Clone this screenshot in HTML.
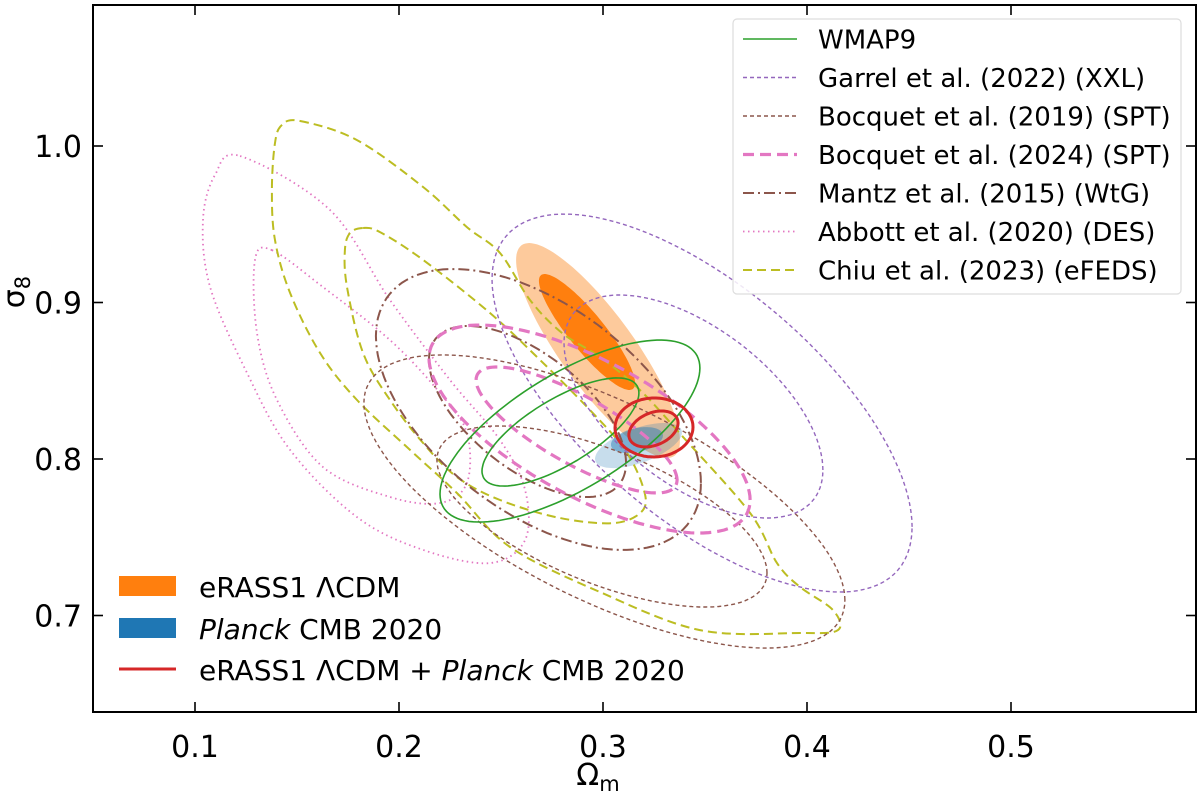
<!DOCTYPE html>
<html><head><meta charset="utf-8">
<style>
html,body{margin:0;padding:0;background:#fff;}
svg{display:block;font-family:"DejaVu Sans","Liberation Sans",sans-serif;}
</style></head>
<body>
<svg id="chart" width="1200" height="795" viewBox="0 0 1200 795" xmlns="http://www.w3.org/2000/svg">
  <g id="fills"></g>
  <g id="lines"></g>
  <g id="axes"></g>
  <g id="legend"></g>
</svg>
<script>
// ---- axis tick data ----
const xTicks = [0.1, 0.2, 0.3, 0.4, 0.5];
const xTickLabels = ["0.1", "0.2", "0.3", "0.4", "0.5"];
const yTicks = [0.7, 0.8, 0.9, 1.0];
const yTickLabels = ["0.7", "0.8", "0.9", "1.0"];

// ---- ellipse contours: [Om left, Om right, s8 bottom, s8 top, s8 at rightmost point] ----
const wmapOuter = [0.2201, 0.3475, 0.7597, 0.8760, 0.8581];
const wmapInner = [0.2407, 0.3176, 0.7827, 0.8518, 0.8422];
const combOuter = [0.3059, 0.3441, 0.8013, 0.8390, 0.8204];
const combInner = [0.3127, 0.3368, 0.8077, 0.8307, 0.8230];
const planckOuter = [0.2961, 0.3387, 0.7942, 0.8230, 0.8170];
const planckInner = [0.3039, 0.3294, 0.8038, 0.8204, 0.8150];
const erassOuter = [0.2574, 0.3377, 0.8006, 0.9380, 0.8115];
const erassInner = [0.2686, 0.3157, 0.8441, 0.9182, 0.8485];
const garrelOuter = [0.2456, 0.4515, 0.7150, 0.9565, 0.7566];
const garrelInner = [0.2809, 0.4078, 0.7623, 0.9048, 0.7930];
const mantzOuter = [0.1887, 0.3480, 0.7419, 0.9214, 0.7847];
const mantzInner = [0.2147, 0.3113, 0.7757, 0.8850, 0.7974];
const bocq19Outer = [0.1828, 0.4186, 0.6792, 0.8665, 0.7099];
const bocq19Inner = [0.2186, 0.3804, 0.7054, 0.8211, 0.7272];
const bocq24Outer = [0.2147, 0.3721, 0.7527, 0.8856, 0.7738];
const bocq24Inner = [0.2378, 0.3363, 0.7783, 0.8588, 0.7866];

// ---- irregular contours: [Om, s8] points ----
const abbottOuter = [[0.1221,0.9936],[0.1662,0.9591],[0.1956,0.9016],[0.2250,0.8505],[0.2495,0.8121],[0.2618,0.7802],[0.2618,0.7482],[0.2446,0.7335],[0.2118,0.7419],[0.1794,0.7629],[0.1466,0.8058],[0.1255,0.8550],[0.1074,0.9099],[0.1039,0.9527],[0.1098,0.9815]];
const abbottInner = [[0.1377,0.9335],[0.1627,0.9099],[0.1956,0.8760],[0.2201,0.8422],[0.2333,0.8166],[0.2333,0.7847],[0.2201,0.7719],[0.1956,0.7757],[0.1627,0.7949],[0.1402,0.8377],[0.1304,0.8805],[0.1294,0.9272]];
const chiuOuter = [[0.1515,1.0160],[0.1794,1.0038],[0.2118,0.9738],[0.2333,0.9482],[0.2495,0.9316],[0.2642,0.9016],[0.2799,0.8805],[0.2985,0.8652],[0.3181,0.8441],[0.3392,0.8141],[0.3721,0.7655],[0.3853,0.7335],[0.3966,0.7182],[0.4127,0.7035],[0.4152,0.6907],[0.3966,0.6888],[0.3475,0.6907],[0.2985,0.7150],[0.2544,0.7438],[0.2284,0.7783],[0.2054,0.8058],[0.1794,0.8377],[0.1613,0.8677],[0.1466,0.9061],[0.1392,0.9399],[0.1377,0.9719],[0.1392,1.0019],[0.1426,1.0134]];
const chiuInner = [[0.1824,0.9476],[0.1907,0.9450],[0.2118,0.9272],[0.2446,0.8933],[0.2691,0.8633],[0.2936,0.8313],[0.3108,0.8058],[0.3196,0.7821],[0.3196,0.7674],[0.3059,0.7591],[0.2789,0.7623],[0.2495,0.7738],[0.2284,0.7885],[0.2118,0.8102],[0.1956,0.8377],[0.1824,0.8677],[0.1745,0.9099],[0.1735,0.9335],[0.1760,0.9444]];

// ---- axis functions ----
const X0 = 93, X1 = 1196, Y0 = 5, Y1 = 712;
function xs(v){ return 195 + (v - 0.1) * 2040; }
function ys(v){ return 459 - (v - 0.8) * 1565; }
const NS = "http://www.w3.org/2000/svg";
function mk(tag, attrs, parent){ const e = document.createElementNS(NS, tag); for (const k in attrs) e.setAttribute(k, attrs[k]); if (parent) parent.appendChild(e); return e; }

function ellipsePath(p){
  const cx = (p[0]+p[1])/2, rx = (p[1]-p[0])/2, cy = (p[2]+p[3])/2, ry = (p[3]-p[2])/2;
  let c = (p[4]-cy)/ry; c = Math.max(-1, Math.min(1, c));
  const phi = Math.acos(c);
  let d = "";
  for (let i = 0; i <= 120; i++){
    const t = i/120*2*Math.PI;
    const X = xs(cx + rx*Math.cos(t)), Y = ys(cy + ry*Math.cos(t - phi));
    d += (i ? "L" : "M") + X.toFixed(1) + "," + Y.toFixed(1);
  }
  return d + "Z";
}
function smoothPath(pts){
  const P = pts.map(q => [xs(q[0]), ys(q[1])]);
  const n = P.length; let d = "M" + P[0][0].toFixed(1) + "," + P[0][1].toFixed(1);
  for (let i = 0; i < n; i++){
    const p0 = P[(i-1+n)%n], p1 = P[i], p2 = P[(i+1)%n], p3 = P[(i+2)%n];
    const c1 = [p1[0] + (p2[0]-p0[0])/6, p1[1] + (p2[1]-p0[1])/6];
    const c2 = [p2[0] - (p3[0]-p1[0])/6, p2[1] - (p3[1]-p1[1])/6];
    d += "C" + c1.map(v=>v.toFixed(1)).join(",") + " " + c2.map(v=>v.toFixed(1)).join(",") + " " + p2[0].toFixed(1) + "," + p2[1].toFixed(1);
  }
  return d + "Z";
}

const svg = document.getElementById("chart");
const defs = mk("defs", {}, svg);
const cp = mk("clipPath", {id: "plotclip"}, defs);
mk("rect", {x: X0, y: Y0, width: X1-X0, height: Y1-Y0}, cp);

const fills = document.getElementById("fills");
fills.setAttribute("clip-path", "url(#plotclip)");
const lines = document.getElementById("lines");
lines.setAttribute("clip-path", "url(#plotclip)");

let e;
e = mk("path", {d: ellipsePath(erassOuter), fill: "#fdca9c"}, fills);


e = mk("path", {d: ellipsePath(erassInner), fill: "#ff7f0e"}, fills);


e = mk("path", {d: ellipsePath(planckOuter), fill: "#1f77b4", "fill-opacity": "0.25"}, fills);


e = mk("path", {d: ellipsePath(planckInner), fill: "#1f77b4", "fill-opacity": "0.45"}, fills);



const S = {
  wmap:  {stroke: "#2ca02c", w: 1.6, dash: ""},
  garrel:{stroke: "#9467bd", w: 1.4, dash: "4,3"},
  bocq19:{stroke: "#8c564b", w: 1.4, dash: "4,3"},
  bocq24:{stroke: "#e377c2", w: 3.2, dash: "11,6"},
  mantz: {stroke: "#8c564b", w: 2, dash: "11,4,2,4"},
  abbott:{stroke: "#e377c2", w: 1.8, dash: "1.5,3.5"},
  chiu:  {stroke: "#bcbd22", w: 2, dash: "9,5"},
  comb:  {stroke: "#d62728", w: 3, dash: ""}
};
function draw(d, st){
  const a = {d: d, fill: "none", stroke: st.stroke, "stroke-width": st.w};
  if (st.dash) a["stroke-dasharray"] = st.dash;
  return mk("path", a, lines);
}
e = draw(smoothPath(abbottOuter), S.abbott);


e = draw(smoothPath(abbottInner), S.abbott);


e = draw(smoothPath(chiuOuter), S.chiu);


e = draw(smoothPath(chiuInner), S.chiu);


e = draw(ellipsePath(bocq19Outer), S.bocq19);


e = draw(ellipsePath(bocq19Inner), S.bocq19);


e = draw(ellipsePath(mantzOuter), S.mantz);


e = draw(ellipsePath(mantzInner), S.mantz);


e = draw(ellipsePath(garrelOuter), S.garrel);


e = draw(ellipsePath(garrelInner), S.garrel);


e = draw(ellipsePath(bocq24Outer), S.bocq24);


e = draw(ellipsePath(bocq24Inner), S.bocq24);


e = draw(ellipsePath(wmapOuter), S.wmap);


e = draw(ellipsePath(wmapInner), S.wmap);


e = draw(ellipsePath(combOuter), S.comb);


e = draw(ellipsePath(combInner), S.comb);



// axes
const axes = document.getElementById("axes");
e = mk("rect", {x: X0, y: Y0, width: X1-X0, height: Y1-Y0, fill: "none", stroke: "#000", "stroke-width": 2}, axes);


xTicks.forEach((v, i) => {
  const X = xs(v);
  mk("line", {x1: X, y1: Y1, x2: X, y2: Y1-10, stroke: "#000", "stroke-width": 1.6}, axes);
  mk("line", {x1: X, y1: Y0, x2: X, y2: Y0+10, stroke: "#000", "stroke-width": 1.6}, axes);
  const t = mk("text", {x: X, y: 757, "text-anchor": "middle", "font-size": 30, fill: "#000"}, axes);
  t.textContent = xTickLabels[i];
  
  
});
yTicks.forEach((v, i) => {
  const Y = ys(v);
  mk("line", {x1: X0, y1: Y, x2: X0+10, y2: Y, stroke: "#000", "stroke-width": 1.6}, axes);
  mk("line", {x1: X1, y1: Y, x2: X1-10, y2: Y, stroke: "#000", "stroke-width": 1.6}, axes);
  const t = mk("text", {x: 82, y: Y+11, "text-anchor": "end", "font-size": 30, fill: "#000"}, axes);
  t.textContent = yTickLabels[i];
  
  
});
let xl = mk("text", {x: 598, y: 785, "text-anchor": "middle", "font-size": 30, fill: "#000"}, axes);
xl.innerHTML = 'Ω<tspan font-size="21" dy="6">m</tspan>';


let yl = mk("text", {x: 0, y: 0, "text-anchor": "middle", "font-size": 30, fill: "#000", transform: "translate(24,292) rotate(-90)"}, axes);
yl.innerHTML = 'σ<tspan font-size="21" dy="6">8</tspan>';



// legend (top-right)
const legend = document.getElementById("legend");
const legLabels = ["WMAP9", "Garrel et al. (2022) (XXL)", "Bocquet et al. (2019) (SPT)", "Bocquet et al. (2024) (SPT)", "Mantz et al. (2015) (WtG)", "Abbott et al. (2020) (DES)", "Chiu et al. (2023) (eFEDS)"];
const legKeys = ["wmap", "garrel", "bocq19", "bocq24", "mantz", "abbott", "chiu"];
e = mk("rect", {x: 733, y: 19, width: 448, height: 275, rx: 4, fill: "#fff", "fill-opacity": 0.85, stroke: "#ddd", "stroke-width": 1.2}, legend);


legLabels.forEach((lab, i) => {
  const y = 39 + i*38.5, st = S[legKeys[i]];
  const g = mk("g", {}, legend);
  
  
  const a = {x1: 743, y1: y, x2: 797, y2: y, stroke: st.stroke, "stroke-width": st.w};
  if (st.dash) a["stroke-dasharray"] = st.dash;
  mk("line", a, g);
  const t = mk("text", {x: 818, y: y+9.5, "font-size": 26, fill: "#000"}, g);
  t.textContent = lab;
});

// legend (bottom-left)
const g1 = mk("g", {}, legend);


mk("rect", {x: 119, y: 576, width: 57, height: 20, fill: "#ff7f0e"}, g1);
let t1 = mk("text", {x: 199, y: 597, "font-size": 28, fill: "#000"}, g1);
t1.textContent = "eRASS1 ΛCDM";
const g2 = mk("g", {}, legend);


mk("rect", {x: 119, y: 618, width: 57, height: 20, fill: "#1f77b4"}, g2);
let t2 = mk("text", {x: 199, y: 639, "font-size": 28, fill: "#000"}, g2);
t2.innerHTML = '<tspan font-style="italic">Planck</tspan> CMB 2020';
const g3 = mk("g", {}, legend);


mk("line", {x1: 119, y1: 669, x2: 176, y2: 669, stroke: "#d62728", "stroke-width": 3}, g3);
let t3 = mk("text", {x: 199, y: 680, "font-size": 28, fill: "#000"}, g3);
t3.innerHTML = 'eRASS1 ΛCDM + <tspan font-style="italic">Planck</tspan> CMB 2020';
</script>
</body></html>
